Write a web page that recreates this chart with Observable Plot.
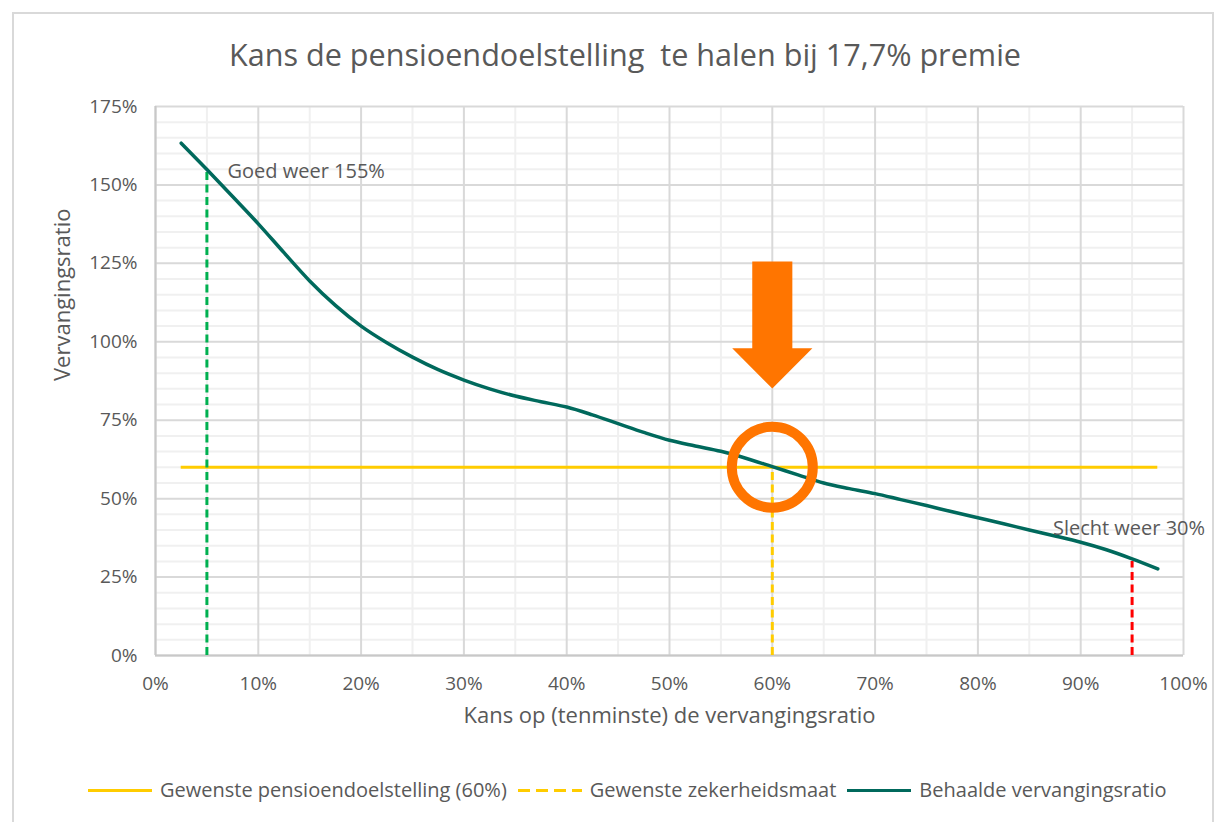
<!DOCTYPE html>
<html><head><meta charset="utf-8">
<script src="https://cdn.jsdelivr.net/npm/d3@7"></script>
<script src="https://cdn.jsdelivr.net/npm/@observablehq/plot@0.6"></script>
<style>
body{margin:0;background:#fff;font-family:"Open Sans",Lato,sans-serif;color:#595959;}
#frame{position:absolute;left:12px;top:12px;width:1202px;height:830px;border:2px solid #D9D9D9;box-sizing:border-box}
#title{position:absolute;top:34px;left:0;width:1250px;text-align:center;font-size:30.6px;color:#595959;white-space:pre;line-height:40px}
#chart{position:absolute;left:0;top:0}
#legend{position:absolute;top:776px;left:88px;display:flex;align-items:center;font-size:20px;white-space:nowrap;line-height:28px}
.item{display:flex;align-items:center;margin-right:11px}
.sw{width:64px;height:3px;margin-right:8px}
</style></head><body>
<div id="frame"></div>
<div id="chart"></div>
<div id="title"></div>
<div id="legend"></div>
<script>
const titleText = "Kans de pensioendoelstelling  te halen bij 17,7% premie";
const xLabel = "Kans op (tenminste) de vervangingsratio";
const yLabel = "Vervangingsratio";
const xTicks = [0,10,20,30,40,50,60,70,80,90,100];
const yTicks = [0,25,50,75,100,125,150,175];
// Behaalde vervangingsratio: kans (%) vs ratio (%)
const kans  = [2.5,5,7.5,10,12.5,15,17.5,20,22.5,25,27.5,30,32.5,35,37.5,40,42.5,45,47.5,50,52.5,55,57.5,60,62.5,65,67.5,70,72.5,75,77.5,80,82.5,85,87.5,90,92.5,95,97.5];
const ratio = [163.3,154.9,146.3,137.6,128.4,119.4,111.6,105,99.7,95.1,91.1,87.8,85,82.7,80.9,79.2,76.7,73.9,71.1,68.6,66.8,65.1,62.8,60.2,57.6,55,53.2,51.6,49.7,47.8,45.8,43.9,42,40,38.1,36.1,33.7,30.8,27.6];
// Gewenste pensioendoelstelling (60%)
const target = [{value:60, from:2.5, to:97.5}];
// vertical markers
const markers = [
  {x:5, y:155, color:"#00B050"},
  {x:60, y:60, color:"#FFCC00"},
  {x:95, y:30, color:"#FF0000"}
];
const labels = [
  {x:7.0, y:154.3, text:"Goed weer 155%"},
  {x:87.3, y:40.5, text:"Slecht weer 30%"}
];
const highlight = [{x:60, y:60}];
const arrowShape = [
  {x:58.05,y:125.6},{x:61.95,y:125.6},{x:61.95,y:97.9},{x:63.9,y:97.9},
  {x:60,y:85.1},{x:56.1,y:97.9},{x:58.05,y:97.9}
];
const legendItems = [
  {label:"Gewenste pensioendoelstelling (60%)", color:"#FFCC00", dash:false},
  {label:"Gewenste zekerheidsmaat", color:"#FFCC00", dash:true},
  {label:"Behaalde vervangingsratio", color:"#00695C", dash:false}
];

const curve = kans.map((k,i)=>({x:k, y:ratio[i]}));
const xMinor = d3.range(5,100,10);
const yMinor = d3.range(5,175,5).filter(v=>v%25!==0);

const chart = Plot.plot({
  width:1223, height:822,
  marginLeft:155, marginRight:40, marginTop:106, marginBottom:167,
  style:{fontFamily:"'Open Sans', Lato, sans-serif", fontSize:"19px", color:"#595959", background:"transparent"},
  x:{domain:[0,100]},
  y:{domain:[0,175]},
  color:{type:"identity"},
  marks:[
    Plot.ruleX(xMinor,{stroke:"#F0F0F0", strokeWidth:2}),
    Plot.ruleY(yMinor,{stroke:"#F0F0F0", strokeWidth:2}),
    Plot.ruleX(xTicks,{stroke:"#D9D9D9", strokeWidth:2}),
    Plot.ruleY(yTicks,{stroke:"#D9D9D9", strokeWidth:2}),
    Plot.ruleX([0],{stroke:"#C8C8C8", strokeWidth:2}),
    Plot.ruleY([0],{stroke:"#C8C8C8", strokeWidth:2}),
    Plot.axisX({ticks:xTicks, tickFormat:d=>d+"%", tickSize:0, tickPadding:21, label:null, fill:"#595959"}),
    Plot.axisY({ticks:yTicks, tickFormat:d=>d+"%", tickSize:0, tickPadding:18, label:null, fill:"#595959"}),
    Plot.text([xLabel],{text:d=>d, frameAnchor:"bottom", dy:67, fontSize:22, fill:"#595959"}),
    Plot.text([yLabel],{text:d=>d, frameAnchor:"left", rotate:-90, dx:-93, fontSize:22, fill:"#595959"}),
    Plot.ruleY(target,{y:"value", x1:"from", x2:"to", stroke:"#FFCC00", strokeWidth:3}),
    Plot.ruleX(markers,{x:"x", y1:0, y2:"y", stroke:"color", strokeWidth:3, strokeDasharray:"8,4.5"}),
    Plot.line(curve,{x:"x", y:"y", curve:"monotone-x", stroke:"#00695C", strokeWidth:3.5}),
    Plot.line(arrowShape,{x:"x", y:"y", fill:"#FF7500", stroke:"none", curve:"linear-closed"}),
    Plot.dot(highlight,{x:"x", y:"y", r:40.5, stroke:"#FF7500", strokeWidth:10, fill:"none"}),
    Plot.text(labels,{x:"x", y:"y", text:"text", textAnchor:"start", fontSize:20, fill:"#595959"})
  ]
});
document.getElementById("chart").appendChild(chart);
document.getElementById("title").textContent = titleText;
const leg = document.getElementById("legend");
legendItems.forEach(it=>{
  const d = document.createElement("div"); d.className="item";
  const s = document.createElement("div"); s.className="sw";
  s.style.background = it.dash
    ? `repeating-linear-gradient(to right, ${it.color} 0 12px, transparent 12px 18px)`
    : it.color;
  const t = document.createElement("span"); t.textContent = it.label;
  d.appendChild(s); d.appendChild(t); leg.appendChild(d);
});
</script>
</body></html>
